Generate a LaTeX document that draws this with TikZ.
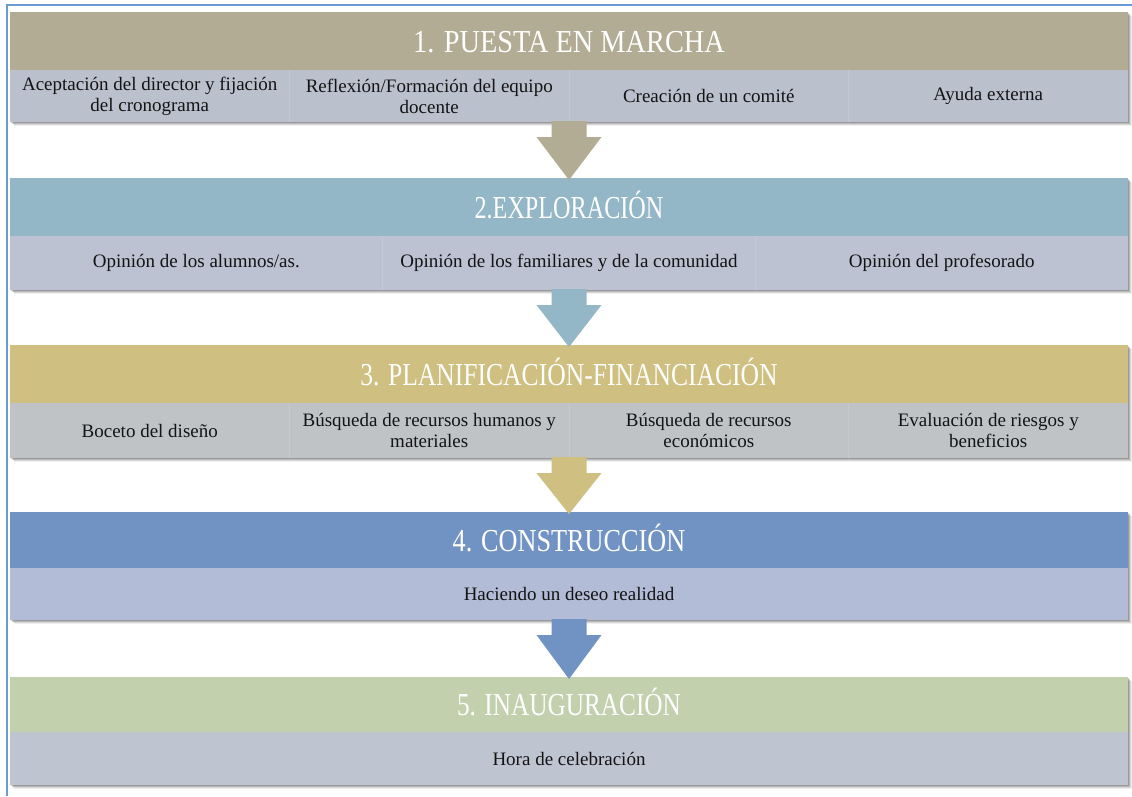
\documentclass[tikz,border=0pt]{standalone}
\usepackage{fontspec}
\usepackage{graphicx}
\setmainfont{Liberation Serif}
\newfontfamily\diagserif{Liberation Serif}
\usetikzlibrary{calc,backgrounds}
\definecolor{frameblue}{HTML}{6A9BD3}
\definecolor{ta}{HTML}{B2AC94}
\definecolor{ua}{HTML}{BBC0CD}
\definecolor{tb}{HTML}{94B7C8}
\definecolor{ub}{HTML}{BCC2D1}
\definecolor{tc}{HTML}{CFBF80}
\definecolor{uc}{HTML}{BFC3C6}
\definecolor{td}{HTML}{7193C4}
\definecolor{ud}{HTML}{B2BCD7}
\definecolor{te}{HTML}{C3D0AE}
\definecolor{ue}{HTML}{BEC4D0}
\definecolor{textdark}{HTML}{141414}
\newcommand\ttl[2]{\scalebox{#1}[1]{#2}}
\newcommand\flowarrow[3]{%
  \fill[#3] ($(#1.south)+(-17.5,-1)$) -- ($(#1.south)+(17.5,-1)$)
    -- ($(#1.south)+(17.5,15)$) -- ($(#1.south)+(32.5,15)$)
    -- ($(#2.north)+(0,2)$) -- ($(#1.south)+(-32.5,15)$)
    -- ($(#1.south)+(-17.5,15)$) -- cycle;}
\newcommand\stageshadow[2]{%
  \foreach \o/\a in {1/0.16,2/0.14,3/0.10,4/0.06}
    \fill[black,opacity=\a] ($(#1.north west)+(\o,\o)$) rectangle ($(#2.south east)+(\o,\o)$);}
\tikzset{
  band/.style={rectangle, inner sep=0pt, outer sep=0pt, minimum width=1118pt, anchor=north west},
  titleband/.style={band, minimum height=#1, text=white, text height=22pt, text depth=0pt,
    font=\diagserif\fontsize{32}{36}\selectfont},
  subband/.style={band, minimum height=#1, text=textdark, font=\diagserif\fontsize{19}{21}\selectfont},
  cell/.style={rectangle, inner sep=0pt, outer sep=0pt, anchor=north west, text=textdark,
    align=center, font=\diagserif\fontsize{19}{21}\selectfont},
  divider/.style={white, opacity=0.12, line width=1pt},
  frameline/.style={frameblue, line width=2pt}
}
\begin{document}
\begin{tikzpicture}[x=1pt,y=-1pt]
\useasboundingbox (0,0) rectangle (1132,796);
% Stage 1
\node[titleband=58pt, fill=ta] (T1) at (10,12) {\ttl{0.885}{1. PUESTA EN MARCHA}};
\node[subband=52pt, fill=ua] (S1) at (10,70) {};
\node[cell, minimum width=279.5pt, minimum height=52pt] (S1a) at (10,70) {Aceptación del director y fijación\\del cronograma};
\node[cell, minimum width=279.5pt, minimum height=52pt] (S1b) at (S1a.north east) {Reflexión/Formación del equipo\\docente};
\node[cell, minimum width=279.5pt, minimum height=52pt] (S1c) at (S1b.north east) {Creación de un comité};
\node[cell, minimum width=279.5pt, minimum height=52pt] (S1d) at (S1c.north east) {Ayuda externa};
% Stage 2
\node[titleband=58pt, fill=tb] (T2) at (10,178) {\ttl{0.756}{2.EXPLORACIÓN}};
\node[subband=54pt, fill=ub] (S2) at (10,236) {};
\node[cell, minimum width=372.67pt, minimum height=54pt] (S2a) at (10,236) {Opinión de los alumnos/as.};
\node[cell, minimum width=372.67pt, minimum height=54pt] (S2b) at (S2a.north east) {Opinión de los familiares y de la comunidad};
\node[cell, minimum width=372.67pt, minimum height=54pt] (S2c) at (S2b.north east) {Opinión del profesorado};
% Stage 3
\node[titleband=58pt, fill=tc] (T3) at (10,345) {\ttl{0.80}{3. PLANIFICACIÓN-FINANCIACIÓN}};
\node[subband=55pt, fill=uc] (S3) at (10,403) {};
\node[cell, minimum width=279.5pt, minimum height=55pt] (S3a) at (10,403) {Boceto del diseño};
\node[cell, minimum width=279.5pt, minimum height=55pt] (S3b) at (S3a.north east) {Búsqueda de recursos humanos y\\materiales};
\node[cell, minimum width=279.5pt, minimum height=55pt] (S3c) at (S3b.north east) {Búsqueda de recursos\\económicos};
\node[cell, minimum width=279.5pt, minimum height=55pt] (S3d) at (S3c.north east) {Evaluación de riesgos y\\beneficios};
% Stage 4
\node[titleband=56pt, fill=td] (T4) at (10,512) {\ttl{0.82}{4. CONSTRUCCIÓN}};
\node[subband=52pt, fill=ud] (S4) at (10,568) {Haciendo un deseo realidad};
% Stage 5
\node[titleband=55pt, fill=te] (T5) at (10,677) {\ttl{0.79}{5. INAUGURACIÓN}};
\node[subband=53pt, fill=ue] (S5) at (10,732) {Hora de celebración};
% column dividers
\foreach \c in {S1a,S1b,S1c,S2a,S2b,S3a,S3b,S3c}
  \draw[divider] (\c.north east) -- (\c.south east);
% background and shadows
\begin{scope}[on background layer]
  \fill[white] (0,0) rectangle (1132,796);
  \stageshadow{T1}{S1}
  \stageshadow{T2}{S2}
  \stageshadow{T3}{S3}
  \stageshadow{T4}{S4}
  \stageshadow{T5}{S5}
\end{scope}
% arrows
\flowarrow{S1}{T2}{ta}
\flowarrow{S2}{T3}{tb}
\flowarrow{S3}{T4}{tc}
\flowarrow{S4}{T5}{td}
% frame
\draw[frameline] (6.5,796) -- (6.5,4.5) -- (1132,4.5);
\end{tikzpicture}
\end{document}
